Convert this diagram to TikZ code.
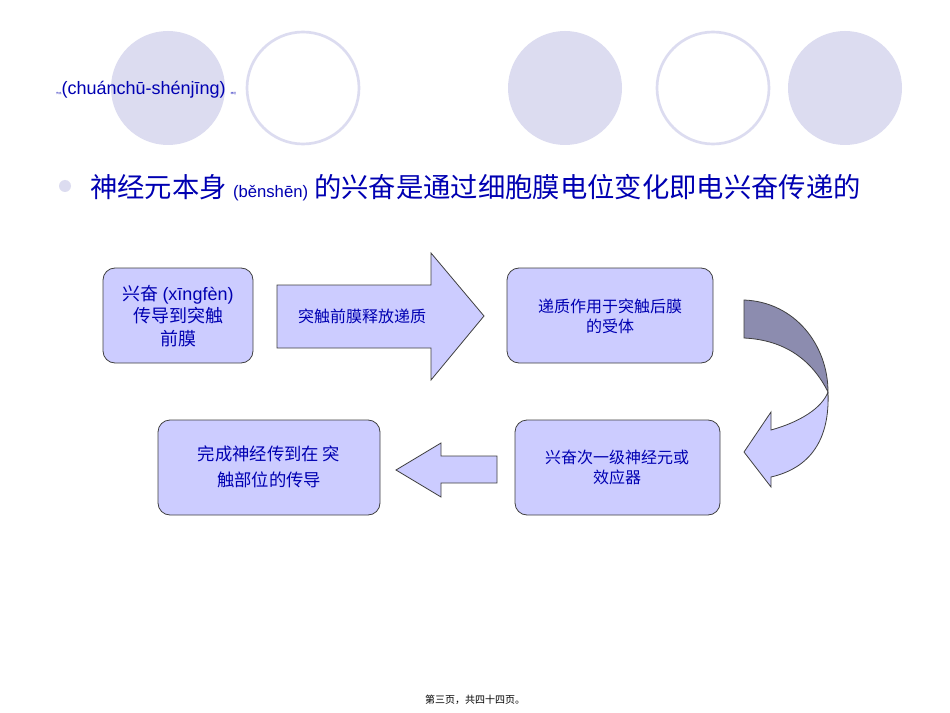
\documentclass[tikz,border=0pt]{standalone}
\usepackage{fontspec}
\setmainfont{Liberation Sans}
\newfontfamily\cjk{Noto Sans CJK SC}
\begin{document}
\begin{tikzpicture}[x=0.75pt,y=-0.75pt,
  circ/.style={fill=lav},
  ring/.style={draw=lav,line width=2pt},
  bx/.style={draw=black!75,fill=boxc,rounded corners=9pt,line width=0.6pt},
  txt/.style={text=blue!70!black,align=center,font=\cjk\fontsize{12}{15}\selectfont}]
\definecolor{lav}{RGB}{220,220,240}
\definecolor{boxc}{RGB}{204,204,255}
\definecolor{darkarr}{RGB}{140,140,175}
\useasboundingbox (0,0) rectangle (950,713);
\fill[white] (0,0) rectangle (950,713);
\fill[circ] (168,88) circle (57);
\draw[ring] (303,88) circle (56);
\fill[circ] (565,88) circle (57);
\draw[ring] (713,88) circle (56);
\fill[circ] (845,88) circle (57);
\node[anchor=west,text=blue!70!black,font=\fontsize{13.5}{15}\selectfont,inner sep=0] (pin) at (56,90) {{\cjk\fontsize{2}{2}\selectfont 传出}(chuánchū-shénjīng) {\cjk\fontsize{2}{2}\selectfont 神经}};
\fill[lav] (65,186) circle (6);
\node[anchor=west,text=blue!70!black,font=\cjk\fontsize{20.5}{22}\selectfont,inner sep=0] (title) at (90,188) {神经元本身 {\fontspec{Liberation Sans}\fontsize{12.5}{14}\selectfont (běnshēn)} 的兴奋是通过细胞膜电位变化即电兴奋传递的};
\draw[bx] (103,268) rectangle (253,363);
\node[txt,font=\cjk\fontsize{13.5}{17}\selectfont] (b1) at (178,316) {兴奋 {\fontspec{Liberation Sans}(xīngfèn)}\\传导到突触\\前膜};
\draw[black!75,fill=boxc,line width=0.6pt] (277,285) -- (431,285) -- (431,253) -- (484,316) -- (431,380) -- (431,348) -- (277,348) -- cycle;
\node[txt] (b2) at (362,316) {突触前膜释放递质};
\draw[bx] (507,268) rectangle (713,363);
\node[txt] (b3) at (610,316) {递质作用于突触后膜\\的受体};
\draw[black!75,fill=darkarr,line width=0.6pt] (744,300) .. controls (795,302) and (828,345) .. (828,392) .. controls (812,360) and (785,340) .. (744,338) -- cycle;
\draw[black!75,fill=boxc,line width=0.6pt] (828,392) .. controls (830,440) and (810,468) .. (771,477) -- (771,487) -- (744,452) -- (771,412) -- (771,430) .. controls (800,422) and (822,408) .. (828,392);
\draw[bx] (515,420) rectangle (720,515);
\node[txt] (b4) at (617,467) {兴奋次一级神经元或\\效应器};
\draw[black!75,fill=boxc,line width=0.6pt] (497,456) -- (441,456) -- (441,443) -- (396,470) -- (441,497) -- (441,483) -- (497,483) -- cycle;
\draw[bx] (158,420) rectangle (380,515);
\node[txt,font=\cjk\fontsize{13}{19}\selectfont] (b5) at (269,467) {完成神经传到在\ 突\\触部位的传导};
\node[font=\cjk\fontsize{7.5}{9}\selectfont] (foot) at (475,700) {第三页，共四十四页。};
\end{tikzpicture}
\end{document}
